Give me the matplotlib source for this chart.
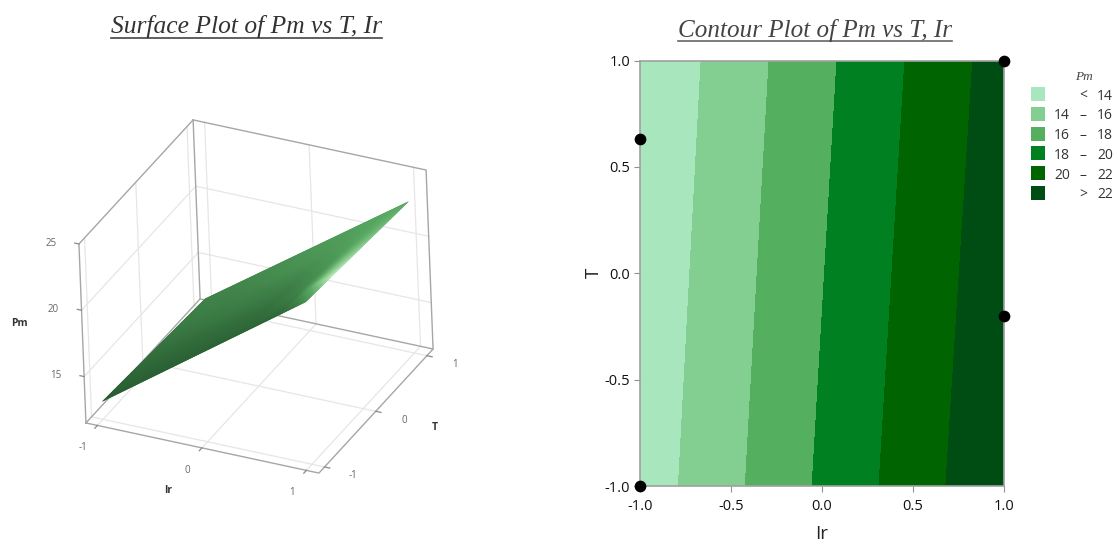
import numpy as np
import matplotlib
matplotlib.use('Agg')
import matplotlib.pyplot as plt
from matplotlib.colors import LinearSegmentedColormap
from matplotlib.patches import Rectangle

# corner values of Pm, rows are T, columns are Ir
ir_corners = [-1, 1]
t_corners = [-1, 1]
pm_corners = [[12.85, 23.74],
              [12.2, 22.92]]

# contour plot
levels = [10, 14, 16, 18, 20, 22, 26]
band_colors = ['#a8e6bd', '#83cf92', '#54b05f', '#008020', '#006400', '#004d14']
legend_left = ['', '14', '16' , '18', '20', '']
legend_mid = ['<', '–', '–', '–', '–', '>']
legend_right = ['14', '16', '18', '20', '22', '22']
dots_ir = [-1, -1, 1, 1]
dots_t = [0.63, -1, 1, -0.2]
contour_ticks = [-1.0, -0.5, 0.0, 0.5, 1.0]

# surface lighting (0 dark, 1 highlight)
shade_ir = [-1, -0.5, 0, 0.4, 0.7, 0.85, 1]
shade_t = [-1, -0.5, 0, 0.5, 1]
shade = [[0.05, 0.06, 0.08, 0.10, 0.12, 0.25, 0.50],
         [0.12, 0.14, 0.18, 0.22, 0.40, 0.75, 1.00],
         [0.22, 0.26, 0.32, 0.38, 0.50, 0.70, 0.85],
         [0.32, 0.36, 0.44, 0.50, 0.58, 0.64, 0.72],
         [0.36, 0.42, 0.50, 0.56, 0.60, 0.62, 0.62]]
surface_ticks = [-1, 0, 1]
pm_ticks = [15, 20, 25]

plt.rcParams['font.family'] = ['Open Sans', 'DejaVu Sans']
plt.rcParams['axes.unicode_minus'] = False

W, H = 1117, 542
fig = plt.figure(figsize=(W / 100, H / 100), dpi=100)


def px_axes(left, top, right, bottom, **kw):
    return fig.add_axes([left / W, 1 - bottom / H, (right - left) / W, (bottom - top) / H], **kw)


###################################
#   surface plot
###################################
ax3 = px_axes(44.7, 96.3, 456.2, 507.8, projection='3d', proj_type='ortho', computed_zorder=False)
ax3.view_init(elev=30.5, azim=-63.2, roll=2.24)
ax3.set_box_aspect((1.244, 1.269, 1))
ir0, ir1 = -1.11, 1.12
t0, t1 = -1.11, 1.12
z0, z1 = 11.5, 25
ax3.set_xlim(ir0, ir1)
ax3.set_ylim(t0, t1)
ax3.set_zlim(z0, z1)
ax3.set_xticks([])
ax3.set_yticks([])
ax3.set_zticks([])
ax3.set_axis_off()
ax3.patch.set_alpha(0)

grid = dict(color='#e6e6e6', lw=0.9, zorder=1)
for v in surface_ticks:
    ax3.plot([v, v], [t0, t1], [z0, z0], **grid)
    ax3.plot([ir0, ir1], [v, v], [z0, z0], **grid)
    ax3.plot([v, v], [t1, t1], [z0, z1], **grid)
    ax3.plot([ir0, ir0], [v, v], [z0, z1], **grid)
for z in pm_ticks[:2]:
    ax3.plot([ir0, ir0], [t0, t1], [z, z], **grid)
    ax3.plot([ir0, ir1], [t1, t1], [z, z], **grid)

edge = dict(color='#a6a6a6', lw=1.0, zorder=2)
ax3.plot([ir0, ir1, ir1, ir0, ir0], [t0, t0, t1, t1, t0], [z0, z0, z0, z0, z0], **edge)
ax3.plot([ir0, ir0, ir0], [t0, t0, t1], [z0, z1, z1], **edge)
ax3.plot([ir0, ir0], [t1, t1], [z0, z1], **edge)
ax3.plot([ir0, ir1, ir1], [t1, t1, t1], [z1, z1, z0], **edge)

# fine mesh only for smooth drawing of the surface
mesh_ir = np.linspace(-1, 1, 161)
mesh_t = np.linspace(-1, 1, 81)
corners = np.array(pm_corners)
wi = (mesh_ir + 1) / 2
wt = ((mesh_t + 1) / 2)[:, None]
mesh_z = (1 - wt) * (corners[0, 0] * (1 - wi) + corners[0, 1] * wi) + wt * (corners[1, 0] * (1 - wi) + corners[1, 1] * wi)
rows = np.array([np.interp(mesh_ir, shade_ir, r) for r in shade])
mesh_shade = np.array([np.interp(mesh_t, shade_t, rows[:, c]) for c in range(len(mesh_ir))]).T
green = LinearSegmentedColormap.from_list('pm_green', [(0, '#265a30'), (0.35, '#3e8048'), (0.6, '#55a55f'), (1, '#bef0be')])
X, Y = np.meshgrid(mesh_ir, mesh_t)
mesh_colors = green(mesh_shade[:-1, :-1])
surf = ax3.plot_surface(X, Y, mesh_z, facecolors=mesh_colors, rstride=1, cstride=1,
                        shade=False, linewidth=0.3, zorder=3)
surf.set_edgecolor(mesh_colors.reshape(-1, 4))

tick = dict(color='#8a8a8a', lw=0.9, zorder=2)
lab = dict(color='#666666', fontsize=7, ha='center', va='center')
title3 = dict(color='#333333', fontsize=7.5, fontweight='bold', ha='center', va='center')
for v in surface_ticks:
    ax3.plot([v, v], [t0, t0 - 0.05], [z0, z0], **tick)
    ax3.plot([ir1, ir1 + 0.05], [v, v], [z0, z0], **tick)
    ax3.text(v, t0 - 0.294, z0 - 0.45, str(v), **lab)
    ax3.text(ir1 + 0.27, v, z0 - 0.2, str(v), **lab)
for z in pm_ticks:
    ax3.plot([ir0, ir0 - 0.04], [t0, t0], [z, z], **tick)
    ax3.text(ir0 - 0.27, t0, z - 0.4, str(z), **lab)
ax3.text(0, t0 - 0.67, z0 - 0.4, 'Ir', **title3)
ax3.text(ir1 + 0.565, 0, z0 - 0.25, 'T', **title3)
ax3.text(ir0 - 0.6, t0, 17.95, 'Pm', **title3)

###################################
#   contour plot
###################################
ax = px_axes(640, 60.5, 1004, 486)
ax.contourf(ir_corners, t_corners, pm_corners, levels=levels, colors=band_colors)
ax.scatter(dots_ir, dots_t, s=55, color='black', clip_on=False, zorder=5)
ax.set_xlim(-1, 1)
ax.set_ylim(-1, 1)
ax.set_xticks(contour_ticks)
ax.set_yticks(contour_ticks)
ax.set_xticklabels(['%.1f' % v for v in contour_ticks])
ax.set_yticklabels(['%.1f' % v for v in contour_ticks])
ax.tick_params(length=4, width=0.8, color='#909090', labelsize=10.5, labelcolor='#111111', pad=3)
ax.tick_params(axis='x', pad=5)
ax.set_xlabel('Ir', fontsize=13.5, color='#222222', labelpad=8)
ax.set_ylabel('T', fontsize=13.5, color='#222222', labelpad=1)
for s in ax.spines.values():
    s.set_color('#a0a0a0')
    s.set_linewidth(1.2)

###################################
#   titles and legend, pixel coordinates
###################################
top = fig.add_axes([0, 0, 1, 1], zorder=10)
top.set_xlim(0, W)
top.set_ylim(H, 0)
top.set_xticks([])
top.set_yticks([])
top.axis('off')
serif = ['Liberation Serif', 'DejaVu Serif']
top.text(246.5, 27, 'Surface Plot of Pm vs T, Ir', family=serif, style='italic', fontsize=18.4, color='#333333', ha='center', va='center')
top.plot([111, 382], [37.5, 37.5], color='#444444', lw=1.2)
top.text(815, 30, 'Contour Plot of Pm vs T, Ir', family=serif, style='italic', fontsize=18.1, color='#444444', ha='center', va='center')
top.plot([678, 952], [41, 41], color='#666666', lw=1.2)

top.text(1084, 77, 'Pm', family=serif, style='italic', fontsize=9.5, color='#444444', ha='center', va='center')
for i, c in enumerate(band_colors):
    y = 94 + i * 19.8
    top.add_patch(Rectangle((1030.5, y - 7), 14, 14, facecolor=c, edgecolor='none'))
    top.text(1070, y + 2, legend_left[i], fontsize=10, color='#333333', ha='right', va='center')
    top.text(1083, y + 2, legend_mid[i], fontsize=10, color='#333333', ha='center', va='center')
    top.text(1113, y + 2, legend_right[i], fontsize=10, color='#333333', ha='right', va='center')

fig.savefig('out.png', dpi=100)
